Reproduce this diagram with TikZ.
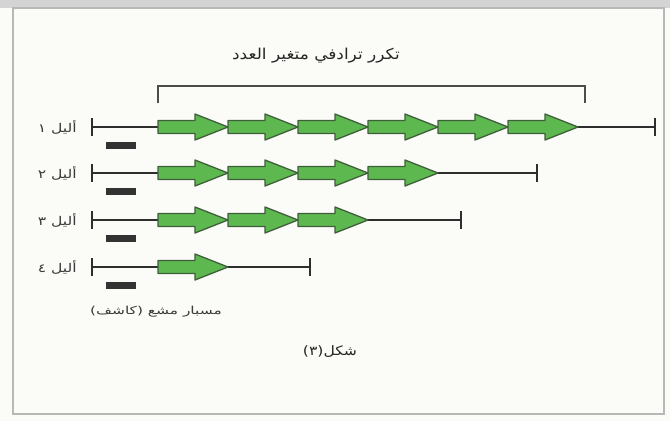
\documentclass[tikz,border=0pt]{standalone}
\usepackage{fontspec}
\TeXXeTstate=1
\newfontfamily\arabicfont[Script=Arabic]{DejaVu Sans}
\usetikzlibrary{calc}
\definecolor{pagebg}{HTML}{FBFBF8}
\definecolor{framegray}{HTML}{B8B8B8}
\definecolor{repgreen}{HTML}{5DB84F}
\definecolor{repedge}{HTML}{3F5E3A}
\definecolor{strand}{HTML}{2E2E2E}
\definecolor{probe}{HTML}{333333}
\definecolor{labelgray}{HTML}{3A3A3A}
\tikzset{
  strandline/.style={draw=strand, line width=2.4pt},
  endtick/.style={draw=strand, line width=2.2pt},
  bracketline/.style={draw=black!70, line width=1.4pt},
  probebar/.style={fill=probe, draw=none},
  allelelabel/.style={font=\arabicfont\fontsize{12}{13}\selectfont, text=labelgray, anchor=east, inner sep=0pt},
  titletext/.style={font=\arabicfont\fontsize{15}{17}\selectfont, text=black!85, inner sep=0pt},
  smalltext/.style={font=\arabicfont\fontsize{11}{12}\selectfont, text=labelgray, inner sep=0pt},
  captiontext/.style={font=\arabicfont\fontsize{13}{14}\selectfont, text=black!85, inner sep=0pt},
  % one unit of the tandem repeat: a block arrow 70 long
  unitarrow/.pic={
    \draw[fill=repgreen, draw=repedge, line width=1.3pt, line join=round]
      (0,-6.5) -- (37,-6.5) -- (37,-13) -- (70,0) -- (37,13) -- (37,6.5) -- (0,6.5) -- cycle;
  }
}
\begin{document}
\begin{tikzpicture}[x=1pt, y=-1pt]
  \useasboundingbox (0,0) rectangle (670,421);
  \fill[pagebg] (0,0) rectangle (670,421);
  \fill[framegray!60] (0,0) rectangle (670,8);
  \draw[framegray, line width=1.6pt] (13,8) rectangle (664,414);

  % heading and the bracket over the repeat region
  \node[titletext] (title) at (316,56) {\scalebox{1.13}[1]{\beginR تكرر ترادفي متغير العدد\endR}};
  \coordinate (brL) at (158,103);
  \coordinate (brR) at (585,103);
  \draw[bracketline] (brL) -- ++(0,-17) -| (brR);

  % four alleles: row y, right end, number of repeat units
  \foreach \row/\y/\xend/\n/\num in {1/127/655/6/١, 2/173/537/4/٢, 3/220/461/3/٣, 4/267/310/1/٤}{
    \coordinate (s\row) at (92,\y);
    \coordinate (e\row) at (\xend,\y);
    \draw[strandline] (s\row) -- (e\row);
    \draw[endtick] ($(s\row)+(0,-9)$) -- ($(s\row)+(0,9)$);
    \draw[endtick] ($(e\row)+(0,-9)$) -- ($(e\row)+(0,9)$);
    \foreach \k in {1,...,\n}{
      \pic at ({158+70*(\k-1)},\y) {unitarrow};
    }
    \fill[probebar] (106,\y+15) rectangle (136,\y+22);
    \node[allelelabel] (lab\row) at (77,\y) {\scalebox{1.3}[1]{\beginR أليل \num\endR}};
  }

  \node[smalltext] (probelabel) at (156,312) {\scalebox{1.4}[1]{\beginR مسبار مشع (كاشف)\endR}};
  \node[captiontext] (caption) at (330,352) {\scalebox{1.2}[1]{\beginR شكل(٣)\endR}};
\end{tikzpicture}
\end{document}
